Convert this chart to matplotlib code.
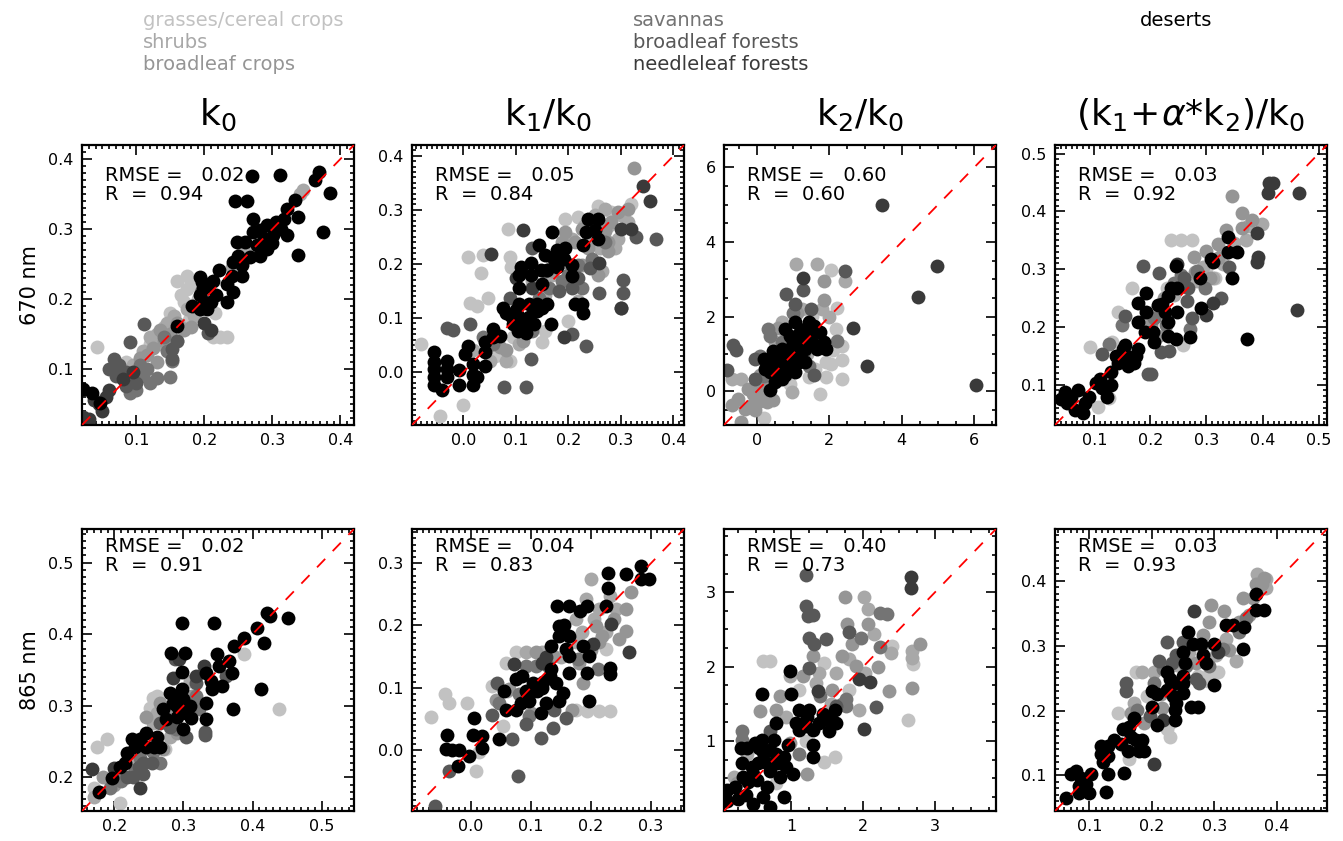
import matplotlib.pyplot as plt
from matplotlib.ticker import MultipleLocator, AutoMinorLocator, FormatStrFormatter

plt.rcParams['font.family'] = ['DejaVu Sans']
plt.rcParams['mathtext.fontset'] = 'dejavusans'

# land cover classes, drawn lightest first
class_names = ['grasses/cereal crops', 'shrubs', 'broadleaf crops', 'savannas',
               'broadleaf forests', 'needleleaf forests', 'deserts']
class_keys = ['grs', 'shr', 'crp', 'sav', 'blf', 'nlf', 'des']
shades = ['#c2c2c2', '#a8a8a8', '#959595', '#747474', '#585858', '#3a3a3a', '#000000']

# ---- 670 nm: (retrieved, modelled) pairs per class ----
k0_670 = {
    'grs': [(0.042, 0.131), (0.174, 0.233), (0.174, 0.214), (0.160, 0.225), (0.165, 0.205), (0.223, 0.145),
            (0.233, 0.145), (0.213, 0.145), (0.185, 0.190), (0.190, 0.200), (0.150, 0.180), (0.140, 0.160),
            (0.178, 0.170), (0.085, 0.110), (0.100, 0.100), (0.205, 0.195), (0.215, 0.180), (0.250, 0.255),
            (0.170, 0.195), (0.180, 0.222), (0.120, 0.135)],
    'shr': [(0.120, 0.145), (0.130, 0.150), (0.145, 0.165), (0.155, 0.175), (0.165, 0.160), (0.175, 0.185),
            (0.110, 0.125), (0.095, 0.105), (0.135, 0.135), (0.185, 0.175), (0.205, 0.215), (0.240, 0.245),
            (0.345, 0.355), (0.340, 0.350), (0.255, 0.265), (0.270, 0.270), (0.150, 0.160), (0.125, 0.140)],
    'crp': [(0.125, 0.130), (0.140, 0.140), (0.150, 0.150), (0.160, 0.165), (0.170, 0.155), (0.115, 0.120),
            (0.105, 0.115), (0.195, 0.185), (0.180, 0.160), (0.100, 0.090), (0.130, 0.110), (0.160, 0.140),
            (0.135, 0.155), (0.145, 0.145)],
    'sav': [(0.068, 0.100), (0.080, 0.095), (0.090, 0.085), (0.110, 0.090), (0.115, 0.100), (0.130, 0.087),
            (0.150, 0.088), (0.152, 0.112), (0.145, 0.125), (0.100, 0.070), (0.090, 0.065), (0.120, 0.080),
            (0.195, 0.210), (0.140, 0.145), (0.105, 0.105)],
    'blf': [(0.067, 0.114), (0.060, 0.100), (0.075, 0.105), (0.111, 0.164), (0.091, 0.138), (0.085, 0.095),
            (0.070, 0.090), (0.152, 0.128), (0.152, 0.114), (0.206, 0.152), (0.160, 0.140), (0.100, 0.080),
            (0.085, 0.075)],
    'nlf': [(0.030, 0.028), (0.049, 0.040), (0.037, 0.056), (0.045, 0.050), (0.055, 0.060), (0.080, 0.085),
            (0.095, 0.095), (0.210, 0.155), (0.200, 0.165), (0.060, 0.070), (0.022, 0.032)],
    'des': [(0.270, 0.376), (0.311, 0.377), (0.368, 0.381), (0.363, 0.370), (0.384, 0.351), (0.375, 0.296),
            (0.338, 0.263), (0.245, 0.340), (0.262, 0.340), (0.271, 0.314), (0.321, 0.329), (0.333, 0.341),
            (0.338, 0.317), (0.317, 0.314), (0.306, 0.310), (0.292, 0.305), (0.282, 0.298), (0.271, 0.296),
            (0.248, 0.281), (0.260, 0.281), (0.287, 0.286), (0.301, 0.291), (0.321, 0.291), (0.277, 0.277),
            (0.292, 0.272), (0.282, 0.262), (0.267, 0.260), (0.250, 0.262), (0.242, 0.253), (0.255, 0.248),
            (0.255, 0.233), (0.240, 0.233), (0.221, 0.241), (0.213, 0.226), (0.233, 0.222), (0.242, 0.210),
            (0.233, 0.195), (0.204, 0.219), (0.194, 0.231), (0.194, 0.205), (0.194, 0.186), (0.204, 0.186),
            (0.182, 0.190), (0.217, 0.205), (0.160, 0.162), (0.022, 0.071), (0.035, 0.066), (0.047, 0.052),
            (0.198, 0.215), (0.200, 0.196), (0.196, 0.224), (0.210, 0.195), (0.300, 0.280), (0.312, 0.300)],
}

k1_670 = {
    'grs': [(0.009, 0.213), (0.038, 0.216), (0.034, 0.183), (0.084, 0.265), (0.088, 0.213), (0.013, 0.128),
            (0.025, 0.122), (0.047, 0.137), (-0.081, 0.052), (0.000, -0.061), (-0.044, -0.082), (0.088, 0.021),
            (0.094, 0.064), (0.150, 0.055), (0.156, 0.076), (0.200, 0.094), (0.194, 0.284), (0.219, 0.287),
            (0.256, 0.308), (0.281, 0.296), (0.319, 0.311), (0.090, 0.195), (0.060, 0.030)],
    'shr': [(0.206, 0.247), (0.244, 0.247), (0.250, 0.290), (0.269, 0.302), (0.294, 0.247), (0.313, 0.277),
            (0.288, 0.229), (0.169, 0.180), (0.156, 0.143), (0.131, 0.168), (0.081, 0.021), (0.050, 0.021),
            (0.019, 0.040), (0.106, 0.052), (0.219, 0.131), (0.263, 0.186), (0.275, 0.271), (0.230, 0.270),
            (0.300, 0.290), (0.260, 0.230)],
    'crp': [(0.169, 0.186), (0.194, 0.259), (0.225, 0.265), (0.256, 0.253), (0.281, 0.277), (0.294, 0.296),
            (0.313, 0.302), (0.275, 0.241), (0.238, 0.229), (0.213, 0.241), (0.188, 0.241), (0.169, 0.210),
            (0.194, 0.204), (0.225, 0.198), (0.113, 0.058), (0.081, 0.040), (0.069, 0.046), (0.325, 0.378),
            (0.256, 0.180), (0.275, 0.223), (0.240, 0.260), (0.270, 0.260)],
    'sav': [(0.144, 0.137), (0.119, 0.088), (0.131, 0.076), (0.038, 0.064), (0.219, 0.198), (0.244, 0.210),
            (0.269, 0.241), (0.188, 0.168), (0.162, 0.155), (0.200, 0.180), (0.225, 0.155), (0.056, 0.052)],
    'blf': [(0.013, 0.088), (-0.031, 0.082), (-0.020, 0.078), (0.078, -0.027), (0.119, -0.027), (0.128, 0.024),
            (0.234, 0.049), (0.206, 0.070), (0.303, 0.171), (0.303, 0.146), (0.300, 0.119), (0.328, 0.250),
            (0.366, 0.247), (0.259, 0.146), (0.241, 0.192), (0.131, 0.229), (0.156, 0.186), (0.181, 0.149),
            (0.206, 0.155), (0.219, 0.174), (0.088, 0.137)],
    'nlf': [(0.114, 0.262), (0.053, 0.218), (0.191, 0.064), (0.259, 0.201), (0.300, 0.265), (0.319, 0.265),
            (0.341, 0.345), (0.356, 0.317), (0.300, 0.119), (0.100, 0.174), (0.131, 0.155)],
    'des': [(-0.056, 0.037), (-0.056, 0.018), (-0.056, 0.006), (-0.056, -0.009), (-0.056, -0.024),
            (-0.041, -0.034), (-0.031, 0.021), (-0.031, 0.006), (-0.031, -0.009), (-0.009, 0.003),
            (-0.009, -0.024), (0.003, 0.034), (0.009, 0.049), (0.019, 0.015), (0.019, -0.006), (0.019, -0.024),
            (0.025, -0.009), (0.041, 0.037), (0.041, 0.012), (0.041, 0.055), (0.056, 0.064), (0.056, 0.079),
            (0.069, 0.067), (0.075, 0.119), (0.081, 0.110), (0.091, 0.104), (0.094, 0.088), (0.103, 0.076),
            (0.106, 0.101), (0.106, 0.125), (0.106, 0.155), (0.106, 0.180), (0.109, 0.195), (0.119, 0.073),
            (0.125, 0.101), (0.125, 0.125), (0.128, 0.180), (0.128, 0.201), (0.134, 0.088), (0.141, 0.113),
            (0.141, 0.125), (0.144, 0.235), (0.147, 0.189), (0.150, 0.162), (0.156, 0.216), (0.159, 0.189),
            (0.166, 0.088), (0.169, 0.259), (0.172, 0.210), (0.178, 0.226), (0.178, 0.195), (0.191, 0.210),
            (0.194, 0.229), (0.206, 0.198), (0.206, 0.177), (0.213, 0.125), (0.225, 0.125), (0.228, 0.110),
            (0.228, 0.235), (0.234, 0.259), (0.238, 0.284), (0.256, 0.284), (0.250, 0.262), (0.256, 0.247),
            (0.150, 0.119), (0.159, 0.125), (0.115, 0.090), (0.100, 0.115)],
}

k2_670 = {
    'grs': [(2.04, 3.24), (2.22, 2.24), (2.18, 1.67), (2.36, 1.22), (2.36, 0.83), (2.36, 0.34), (2.04, 0.74),
            (1.90, 0.38), (1.76, -0.06), (1.44, 0.38), (0.93, 0.20), (1.16, 1.49), (1.53, 2.02), (1.90, 0.78),
            (0.20, -0.70), (2.10, 1.10), (1.60, 0.60)],
    'shr': [(1.09, 3.42), (1.67, 3.42), (2.45, 2.97), (0.97, -0.02), (0.69, 1.85), (0.51, 1.31), (-0.69, 0.34),
            (-0.42, 0.34), (0.32, 0.69), (1.25, 2.20), (1.62, 1.22), (1.06, 0.87), (1.80, 2.20), (2.00, 2.00),
            (0.80, 1.50), (1.40, 1.00)],
    'crp': [(1.85, 2.97), (1.85, 2.44), (0.09, 0.43), (-0.69, -0.37), (-0.51, -0.20), (-0.32, -0.46),
            (-0.14, -0.37), (0.05, -0.28), (-0.05, -0.50), (0.28, -0.28), (0.46, -0.24), (-0.42, -0.82),
            (-0.23, 0.07), (-0.09, -0.06), (0.23, -0.15), (0.14, 0.16), (1.40, 1.70), (1.70, 1.40),
            (0.60, 1.70), (1.10, 2.10), (0.00, 0.10)],
    'sav': [(2.22, 1.36), (0.32, 1.67), (0.37, 1.49), (0.97, 0.78), (1.44, 0.69), (0.69, 1.31), (1.30, 1.05),
            (0.10, 0.95), (1.00, 2.10), (1.50, 1.60), (0.20, 0.40)],
    'blf': [(0.81, 2.62), (1.06, 2.33), (1.57, 0.44), (-0.83, 0.56), (-0.65, 1.24), (-0.56, 1.11),
            (2.44, 3.22), (1.28, 2.71), (-0.05, 0.87), (-0.05, 0.34), (0.60, 1.00), (1.80, 1.20), (1.50, 2.20)],
    'nlf': [(3.47, 5.00), (4.97, 3.35), (4.44, 2.53), (6.05, 0.18), (3.04, 0.67), (2.66, 1.71), (1.28, 3.04)],
    'des': [(0.37, 0.03), (0.51, 0.25), (0.23, 0.60), (0.19, 0.87), (0.46, 1.09), (0.79, 1.67), (1.06, 1.85),
            (1.16, 1.49), (1.34, 1.67), (1.44, 1.85), (1.57, 1.76), (1.76, 1.58), (1.85, 1.31), (1.90, 1.14),
            (1.53, 1.31), (1.34, 1.14), (1.16, 0.78), (0.97, 1.14), (0.79, 0.96), (0.65, 0.60), (0.79, 0.43),
            (1.06, 0.51), (0.51, 0.78), (0.37, 0.51), (0.69, 0.34), (0.88, 0.60), (1.16, 0.96), (1.34, 0.78),
            (0.51, 0.43), (0.28, 0.78), (1.25, 1.31), (0.93, 1.49), (0.69, 1.14), (1.67, 1.14), (0.40, 0.70),
            (0.60, 0.80), (0.90, 0.90), (1.00, 1.30), (1.20, 1.60), (0.55, 0.55), (0.75, 0.75), (1.45, 1.55)],
}

kc_670 = {
    'grs': [(0.236, 0.350), (0.254, 0.350), (0.274, 0.350), (0.093, 0.165), (0.106, 0.062), (0.126, 0.076),
            (0.143, 0.226), (0.167, 0.268), (0.230, 0.268), (0.259, 0.168), (0.315, 0.285), (0.132, 0.173),
            (0.300, 0.300), (0.210, 0.230)],
    'shr': [(0.312, 0.285), (0.329, 0.309), (0.283, 0.279), (0.294, 0.303), (0.370, 0.350), (0.375, 0.374),
            (0.399, 0.379), (0.242, 0.256), (0.219, 0.221), (0.190, 0.203), (0.350, 0.345), (0.330, 0.330)],
    'crp': [(0.277, 0.321), (0.300, 0.332), (0.320, 0.344), (0.335, 0.368), (0.364, 0.371), (0.381, 0.385),
            (0.364, 0.397), (0.346, 0.426), (0.260, 0.274), (0.306, 0.285), (0.225, 0.250), (0.201, 0.203),
            (0.213, 0.185), (0.280, 0.295), (0.320, 0.320)],
    'sav': [(0.126, 0.171), (0.149, 0.203), (0.242, 0.276), (0.283, 0.297), (0.297, 0.268), (0.271, 0.197),
            (0.207, 0.215), (0.228, 0.203), (0.255, 0.290)],
    'blf': [(0.187, 0.306), (0.155, 0.218), (0.114, 0.153), (0.216, 0.294), (0.219, 0.156), (0.233, 0.159),
            (0.260, 0.285), (0.268, 0.268), (0.265, 0.244), (0.274, 0.215), (0.326, 0.250), (0.341, 0.303),
            (0.196, 0.118), (0.201, 0.118)],
    'nlf': [(0.390, 0.362), (0.392, 0.321), (0.390, 0.312), (0.410, 0.432), (0.412, 0.450), (0.418, 0.450),
            (0.312, 0.241), (0.300, 0.220), (0.248, 0.309), (0.461, 0.229), (0.465, 0.432)],
    'des': [(0.048, 0.088), (0.059, 0.079), (0.051, 0.068), (0.065, 0.056), (0.080, 0.050), (0.083, 0.068),
            (0.071, 0.091), (0.091, 0.079), (0.103, 0.103), (0.114, 0.094), (0.129, 0.100), (0.123, 0.079),
            (0.129, 0.121), (0.138, 0.150), (0.151, 0.162), (0.161, 0.132), (0.158, 0.150), (0.170, 0.138),
            (0.178, 0.162), (0.175, 0.150), (0.143, 0.138), (0.155, 0.168), (0.190, 0.191), (0.178, 0.209),
            (0.178, 0.241), (0.193, 0.259), (0.193, 0.226), (0.204, 0.191), (0.207, 0.174), (0.213, 0.238),
            (0.226, 0.226), (0.231, 0.253), (0.237, 0.268), (0.248, 0.268), (0.245, 0.306), (0.231, 0.209),
            (0.248, 0.226), (0.231, 0.185), (0.245, 0.179), (0.271, 0.182), (0.288, 0.285), (0.291, 0.232),
            (0.309, 0.318), (0.312, 0.312), (0.338, 0.356), (0.338, 0.329), (0.355, 0.329), (0.346, 0.285),
            (0.372, 0.179), (0.040, 0.075), (0.110, 0.110), (0.165, 0.145), (0.220, 0.240)],
}

# ---- 865 nm ----
k0_865 = {
    'grs': [(0.175, 0.242), (0.189, 0.253), (0.208, 0.164), (0.256, 0.311), (0.261, 0.313), (0.251, 0.297),
            (0.273, 0.239), (0.388, 0.373), (0.438, 0.296), (0.170, 0.185), (0.240, 0.255), (0.262, 0.300)],
    'shr': [(0.170, 0.173), (0.194, 0.197), (0.210, 0.205), (0.261, 0.290), (0.256, 0.276), (0.280, 0.257),
            (0.250, 0.245), (0.230, 0.225), (0.270, 0.285), (0.310, 0.335)],
    'crp': [(0.184, 0.201), (0.200, 0.190), (0.251, 0.239), (0.266, 0.304), (0.246, 0.285), (0.270, 0.239),
            (0.313, 0.313), (0.290, 0.262), (0.275, 0.295)],
    'sav': [(0.194, 0.185), (0.237, 0.227), (0.256, 0.236), (0.318, 0.313), (0.289, 0.267), (0.266, 0.220),
            (0.323, 0.295), (0.210, 0.195), (0.230, 0.210)],
    'blf': [(0.218, 0.201), (0.227, 0.201), (0.242, 0.220), (0.254, 0.220), (0.242, 0.204), (0.266, 0.276),
            (0.280, 0.271), (0.304, 0.257), (0.331, 0.264), (0.331, 0.259), (0.287, 0.365), (0.318, 0.332),
            (0.361, 0.341), (0.235, 0.215)],
    'nlf': [(0.167, 0.211), (0.199, 0.213), (0.237, 0.185), (0.285, 0.339), (0.294, 0.365), (0.318, 0.341),
            (0.329, 0.355)],
    'des': [(0.298, 0.416), (0.344, 0.416), (0.282, 0.374), (0.302, 0.374), (0.349, 0.372), (0.298, 0.347),
            (0.298, 0.323), (0.333, 0.346), (0.340, 0.334), (0.352, 0.355), (0.366, 0.362), (0.371, 0.346),
            (0.373, 0.383), (0.388, 0.395), (0.407, 0.409), (0.416, 0.388), (0.421, 0.430), (0.426, 0.425),
            (0.452, 0.422), (0.413, 0.323), (0.372, 0.295), (0.332, 0.281), (0.332, 0.304), (0.356, 0.327),
            (0.342, 0.323), (0.285, 0.304), (0.294, 0.295), (0.304, 0.290), (0.275, 0.281), (0.280, 0.318),
            (0.299, 0.267), (0.311, 0.283), (0.261, 0.257), (0.258, 0.243), (0.246, 0.262), (0.237, 0.253),
            (0.230, 0.243), (0.225, 0.253), (0.218, 0.234), (0.215, 0.220), (0.208, 0.215), (0.196, 0.199),
            (0.177, 0.179), (0.246, 0.243), (0.266, 0.243), (0.289, 0.309), (0.270, 0.295), (0.290, 0.300),
            (0.300, 0.310), (0.310, 0.300), (0.290, 0.285)],
}

k1_865 = {
    'grs': [(-0.067, 0.053), (-0.043, 0.090), (-0.036, 0.076), (-0.006, 0.076), (0.009, -0.034),
            (0.014, -0.004), (0.036, 0.103), (0.058, 0.140), (0.075, 0.157), (0.175, 0.065), (0.194, 0.063),
            (0.214, 0.063), (0.232, 0.063), (0.225, 0.162), (0.053, 0.039)],
    'shr': [(0.092, 0.157), (0.119, 0.157), (0.175, 0.210), (0.192, 0.242), (0.200, 0.275), (0.214, 0.226),
            (0.175, 0.173), (0.231, 0.248), (0.242, 0.226), (0.225, 0.189), (0.150, 0.150), (0.060, 0.095),
            (0.185, 0.190), (0.205, 0.210)],
    'crp': [(0.042, 0.081), (0.064, 0.098), (0.108, 0.157), (0.136, 0.151), (0.186, 0.108), (0.208, 0.199),
            (0.219, 0.183), (0.214, 0.173), (0.239, 0.210), (0.247, 0.178), (0.258, 0.226), (0.258, 0.191),
            (0.267, 0.253), (0.169, 0.065), (0.100, 0.060), (0.180, 0.140), (0.200, 0.160)],
    'sav': [(0.047, 0.076), (0.092, 0.135), (0.108, 0.135), (0.128, 0.135), (0.097, 0.055), (0.178, 0.146),
            (0.211, 0.130), (0.080, 0.090)],
    'blf': [(-0.036, -0.034), (0.044, 0.108), (0.069, 0.017), (0.092, 0.041), (0.117, 0.020), (0.136, 0.036),
            (0.158, 0.052), (0.139, 0.065), (0.078, -0.042), (0.036, 0.057), (-0.060, -0.090)],
    'nlf': [(0.264, 0.157), (0.233, 0.202), (0.203, 0.170), (0.072, 0.138), (0.119, 0.140), (0.125, 0.150)],
    'des': [(-0.040, 0.024), (-0.042, 0.001), (-0.031, 0.000), (-0.019, 0.000), (-0.022, -0.026),
            (-0.003, -0.010), (0.003, 0.024), (0.006, 0.051), (0.019, 0.004), (0.019, 0.023), (0.047, 0.017),
            (0.056, 0.095), (0.058, 0.065), (0.075, 0.065), (0.083, 0.076), (0.086, 0.119), (0.092, 0.095),
            (0.103, 0.108), (0.097, 0.079), (0.117, 0.060), (0.119, 0.100), (0.131, 0.119), (0.142, 0.108),
            (0.133, 0.130), (0.133, 0.167), (0.144, 0.232), (0.146, 0.199), (0.147, 0.183), (0.158, 0.162),
            (0.164, 0.183), (0.164, 0.232), (0.164, 0.151), (0.181, 0.224), (0.186, 0.167), (0.194, 0.232),
            (0.197, 0.151), (0.194, 0.124), (0.197, 0.079), (0.164, 0.124), (0.147, 0.079), (0.225, 0.232),
            (0.228, 0.261), (0.228, 0.285), (0.231, 0.132), (0.231, 0.122), (0.258, 0.283), (0.283, 0.296),
            (0.283, 0.275), (0.296, 0.275), (0.075, 0.114), (0.153, 0.092), (0.125, 0.076), (0.110, 0.095),
            (0.155, 0.200), (0.120, 0.110)],
}

k2_865 = {
    'grs': [(0.70, 2.07), (0.60, 2.07), (2.40, 2.28), (2.70, 2.03), (2.63, 1.28), (1.46, 2.05), (1.46, 0.72),
            (1.60, 0.79), (1.11, 1.69), (1.80, 1.69), (0.79, 0.43), (1.20, 1.00)],
    'shr': [(2.01, 2.93), (2.06, 2.77), (2.15, 2.44), (2.38, 2.19), (2.68, 2.21), (2.68, 2.12), (2.03, 1.92),
            (1.62, 1.92), (1.39, 1.92), (0.98, 1.87), (1.34, 1.78), (1.94, 1.42), (0.93, 1.33), (0.20, 0.52),
            (0.38, 0.83), (1.80, 2.10), (1.55, 1.50)],
    'crp': [(1.74, 2.93), (2.06, 2.57), (1.78, 2.57), (2.79, 2.30), (2.68, 1.71), (2.36, 1.67), (1.90, 2.01),
            (1.71, 2.14), (1.30, 2.14), (1.16, 1.87), (1.21, 0.56), (0.79, 1.42), (0.56, 1.40), (0.84, 1.60),
            (1.57, 1.69), (0.98, 0.97), (0.24, 0.43), (1.85, 2.30), (2.20, 2.00)],
    'sav': [(1.97, 2.39), (2.24, 2.72), (2.33, 2.71), (2.24, 2.26), (1.76, 1.56), (1.76, 1.47), (0.31, 1.13),
            (0.31, 1.01), (1.11, 0.83), (1.70, 1.50), (1.40, 1.60)],
    'blf': [(2.18, 1.46), (1.20, 3.23), (1.20, 2.82), (1.23, 2.68), (1.30, 2.70), (1.25, 2.39), (1.32, 2.30),
            (1.48, 2.37), (1.80, 2.46), (1.62, 1.47), (1.25, 1.98), (0.70, 1.13)],
    'nlf': [(2.01, 1.16), (1.94, 1.83), (2.10, 1.80), (2.66, 3.20), (2.66, 3.06), (1.37, 1.67)],
    'des': [(0.47, 0.16), (0.70, 0.11), (0.61, 0.25), (0.66, 0.38), (0.52, 0.47), (0.33, 0.52), (0.22, 0.38),
            (0.36, 0.27), (0.47, 0.56), (0.54, 0.70), (0.45, 0.65), (0.31, 0.70), (0.29, 0.90), (0.38, 0.90),
            (0.49, 0.97), (0.59, 1.01), (0.59, 1.63), (0.70, 0.88), (0.79, 0.83), (0.89, 0.79), (0.66, 0.70),
            (0.93, 0.65), (1.02, 0.56), (0.84, 0.52), (0.95, 0.95), (1.00, 1.63), (0.98, 1.94), (0.79, 1.24),
            (0.75, 1.01), (1.07, 1.24), (1.11, 1.15), (1.11, 1.42), (1.21, 1.33), (1.25, 1.42), (1.30, 1.15),
            (1.39, 1.24), (1.44, 1.37), (1.53, 1.28), (1.53, 1.13), (1.62, 1.24), (1.60, 1.42), (1.30, 0.95),
            (1.30, 0.79), (0.10, 0.34), (0.10, 0.20), (0.26, 0.22), (0.89, 0.25), (0.60, 0.85), (0.70, 0.60),
            (0.40, 0.45), (0.80, 0.70), (0.55, 0.90), (1.20, 1.20)],
}

kc_865 = {
    'grs': [(0.145, 0.196), (0.174, 0.259), (0.163, 0.125), (0.224, 0.172), (0.229, 0.159), (0.229, 0.180),
            (0.292, 0.256), (0.305, 0.259), (0.274, 0.253), (0.192, 0.222), (0.290, 0.245)],
    'shr': [(0.171, 0.212), (0.184, 0.259), (0.203, 0.259), (0.303, 0.285), (0.318, 0.311), (0.334, 0.277),
            (0.368, 0.411), (0.382, 0.403), (0.383, 0.389), (0.240, 0.270), (0.260, 0.290), (0.280, 0.300)],
    'crp': [(0.166, 0.196), (0.187, 0.180), (0.216, 0.204), (0.271, 0.274), (0.282, 0.316), (0.292, 0.337),
            (0.316, 0.353), (0.339, 0.337), (0.355, 0.348), (0.345, 0.374), (0.366, 0.395), (0.379, 0.405),
            (0.376, 0.395), (0.361, 0.374), (0.295, 0.363), (0.324, 0.293), (0.215, 0.225)],
    'sav': [(0.176, 0.201), (0.218, 0.264), (0.203, 0.243), (0.255, 0.269), (0.292, 0.269), (0.313, 0.295),
            (0.339, 0.321), (0.350, 0.342)],
    'blf': [(0.158, 0.243), (0.158, 0.230), (0.211, 0.277), (0.224, 0.306), (0.232, 0.274), (0.239, 0.285),
            (0.271, 0.248), (0.197, 0.191), (0.250, 0.306), (0.276, 0.243)],
    'nlf': [(0.203, 0.117), (0.218, 0.186), (0.268, 0.353), (0.305, 0.290)],
    'des': [(0.063, 0.065), (0.071, 0.102), (0.079, 0.107), (0.087, 0.096), (0.084, 0.083), (0.084, 0.073),
            (0.100, 0.073), (0.095, 0.086), (0.103, 0.102), (0.118, 0.146), (0.118, 0.133), (0.121, 0.120),
            (0.129, 0.102), (0.126, 0.075), (0.129, 0.130), (0.129, 0.146), (0.139, 0.154), (0.150, 0.149),
            (0.155, 0.104), (0.153, 0.172), (0.161, 0.138), (0.166, 0.159), (0.163, 0.175), (0.171, 0.188),
            (0.174, 0.154), (0.179, 0.138), (0.184, 0.154), (0.187, 0.138), (0.200, 0.206), (0.200, 0.230),
            (0.208, 0.225), (0.208, 0.177), (0.224, 0.259), (0.229, 0.248), (0.224, 0.232), (0.234, 0.222),
            (0.237, 0.243), (0.239, 0.212), (0.250, 0.253), (0.250, 0.227), (0.250, 0.243), (0.253, 0.274),
            (0.250, 0.290), (0.258, 0.321), (0.237, 0.185), (0.237, 0.201), (0.263, 0.206), (0.274, 0.206),
            (0.266, 0.303), (0.279, 0.303), (0.282, 0.285), (0.287, 0.274), (0.300, 0.240), (0.300, 0.303),
            (0.318, 0.332), (0.329, 0.332), (0.347, 0.329), (0.345, 0.295), (0.366, 0.379), (0.366, 0.355),
            (0.379, 0.355)],
}

panels_670 = [k0_670, k1_670, k2_670, kc_670]
panels_865 = [k0_865, k1_865, k2_865, kc_865]
rmse_670 = [0.02, 0.05, 0.60, 0.03]
r_670 = [0.94, 0.84, 0.60, 0.92]
rmse_865 = [0.02, 0.04, 0.40, 0.03]
r_865 = [0.91, 0.83, 0.73, 0.93]
lims_670 = [(0.02, 0.42), (-0.098, 0.42), (-0.9, 6.6), (0.03, 0.515)]
lims_865 = [(0.153, 0.547), (-0.098, 0.355), (0.06, 3.85), (0.045, 0.48)]
steps_670 = [0.1, 0.1, 2, 0.1]
steps_865 = [0.1, 0.1, 1, 0.1]
col_titles = [r'$\mathrm{k_0}$', r'$\mathrm{k_1/k_0}$', r'$\mathrm{k_2/k_0}$',
              r'$\mathrm{(k_1\!+\!}\alpha\mathrm{*k_2)/k_0}$']
row_titles = ['670 nm', '865 nm']

W, H = 1343, 841
fig = plt.figure(figsize=(W / 100, H / 100), dpi=100)

col_left = [82, 412, 724, 1055]
col_w = 272
rows = [(145, 425), (529, 811)]


def draw_panel(ax, data, lim, step, rmse, r, text_y):
    for key, shade in zip(class_keys, shades):
        pts = data[key]
        ax.scatter([p[0] for p in pts], [p[1] for p in pts], s=100, c=shade,
                   linewidths=0, zorder=2)
    ax.plot(lim, lim, color='red', lw=1.3, dashes=(6.5, 6), zorder=3)
    ax.set_xlim(lim)
    ax.set_ylim(lim)
    for axis in (ax.xaxis, ax.yaxis):
        axis.set_major_locator(MultipleLocator(step))
        axis.set_minor_locator(AutoMinorLocator(10 if step < 1 else 4))
        axis.set_major_formatter(FormatStrFormatter('%.1f' if step < 1 else '%d'))
    ax.tick_params(which='both', direction='in', top=True, right=True, width=1.2)
    ax.tick_params(which='major', length=7, labelsize=11.5, pad=6)
    ax.tick_params(which='minor', length=3)
    for sp in ax.spines.values():
        sp.set_linewidth(1.6)
    ax.text(0.085, text_y, f'RMSE =   {rmse:.2f}', transform=ax.transAxes,
            fontsize=14, va='top', ha='left', zorder=4)
    ax.text(0.085, text_y - 0.068, f'R  =  {r:.2f}', transform=ax.transAxes,
            fontsize=14, va='top', ha='left', zorder=4)


row_sets = [(panels_670, rmse_670, r_670, lims_670, steps_670, 0.925),
            (panels_865, rmse_865, r_865, lims_865, steps_865, 0.972)]

for (top, bot), (pans, rms, rs, lims, steps, ty) in zip(rows, row_sets):
    for i in range(4):
        ax = fig.add_axes([col_left[i] / W, 1 - bot / H, col_w / W, (bot - top) / H])
        draw_panel(ax, pans[i], lims[i], steps[i], rms[i], rs[i], ty)

# column headings
for i, title in enumerate(col_titles):
    cx = (col_left[i] + col_w / 2) / W
    fig.text(cx, 1 - 125 / H, title, fontsize=26, ha='center', va='baseline')

# wavelength labels on the left
for (top, bot), label in zip(rows, row_titles):
    fig.text(30 / W, 1 - (top + bot) / 2 / H, label, fontsize=15, rotation=90,
             ha='center', va='center')

# class key above the panels
key_cols = [(143, [0, 1, 2]), (633, [3, 4, 5]), (1140, [6])]
for x0, idx in key_cols:
    for j, k in enumerate(idx):
        fig.text(x0 / W, 1 - (20 + 22 * j) / H, class_names[k], color=shades[k],
                 fontsize=14, ha='left', va='center')

fig.savefig('out.png', dpi=100)
